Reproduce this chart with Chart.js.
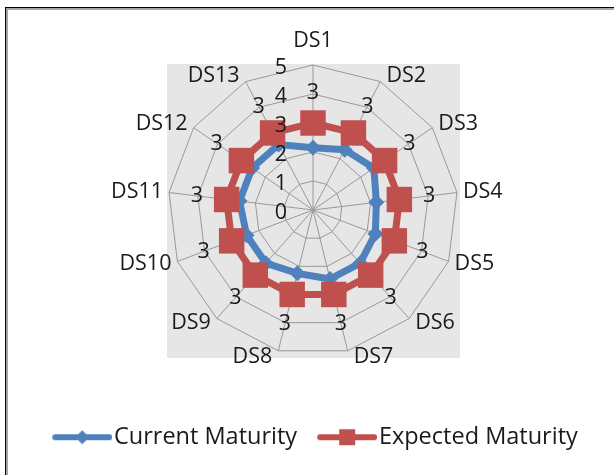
<!DOCTYPE html>
<html>
<head>
<meta charset="utf-8">
<script src="https://cdn.jsdelivr.net/npm/chart.js@4.4.1/dist/chart.umd.min.js"></script>
<style>
  html, body { margin: 0; padding: 0; background: #fff; }
  .chart-box { position: relative; width: 614px; height: 475px; }
</style>
</head>
<body>
<div class="chart-box"><canvas class="js-radar"></canvas></div>
<script>
const categories = ["DS1", "DS2", "DS3", "DS4", "DS5", "DS6", "DS7", "DS8", "DS9", "DS10", "DS11", "DS12", "DS13"];
const currentMaturity = [2.15, 2.35, 2.55, 2.2, 2.3, 2.45, 2.45, 2.25, 2.45, 2.45, 2.55, 2.55, 2.55];
const expectedMaturity = [3, 3, 3, 3, 3, 3, 3, 3, 3, 3, 3, 3, 3];
const tickValues = [0, 1, 2, 3, 4, 5];

const blue = "#4f81bd";
const red = "#c0504d";
const gridColor = "#999999";
const textColor = "#1a1a1a";
const fontFamily = "'Open Sans', sans-serif";
const fontSize = 21.5;
const legendFontSize = 23.5;

// office style legend symbol: a line with the marker in the middle
const legendSymbol = function (color, marker) {
  const c = document.createElement("canvas");
  c.width = 80;
  c.height = 24;
  const ctx = c.getContext("2d");
  ctx.strokeStyle = color;
  ctx.fillStyle = color;
  ctx.lineWidth = 6;
  ctx.lineCap = "round";
  ctx.beginPath();
  ctx.moveTo(23, 12);
  ctx.lineTo(77, 12);
  ctx.stroke();
  ctx.beginPath();
  if (marker === "diamond") {
    ctx.moveTo(50 - 7, 12);
    ctx.lineTo(50, 12 - 7);
    ctx.lineTo(50 + 7, 12);
    ctx.lineTo(50, 12 + 7);
    ctx.closePath();
  } else {
    ctx.rect(50 - 8, 12 - 8, 16, 16);
  }
  ctx.fill();
  return c;
};

const symbols = [legendSymbol(blue, "diamond"), legendSymbol(red, "square")];

const radarText = {
  id: "radarText",
  beforeDraw(chart) {
    const ctx = chart.ctx;
    const scale = chart.scales.r;
    const R = scale.drawingArea;
    ctx.save();
    // outer frame (left and top edge)
    ctx.fillStyle = "#000";
    ctx.fillRect(5, 7, 1, chart.height - 7);
    ctx.fillRect(5, 7, chart.width - 5, 1);
    ctx.fillStyle = "#a6a6a6";
    ctx.fillRect(6, 8, 2, chart.height - 8);
    ctx.fillRect(6, 8, chart.width - 6, 2);
    // plot area
    ctx.fillStyle = "#e6e6e6";
    ctx.fillRect(scale.xCenter - R - 1, scale.yCenter - R - 1, 2 * R + 3, 2 * R + 4);
    ctx.restore();
  },
  afterDatasetsDraw(chart) {
    const ctx = chart.ctx;
    const scale = chart.scales.r;
    const R = scale.drawingArea;
    ctx.save();
    ctx.font = fontSize + "px " + fontFamily;
    ctx.fillStyle = textColor;
    ctx.textBaseline = "middle";
    ctx.textAlign = "center";

    categories.forEach((name, i) => {
      const angle = scale.getIndexAngle(i);
      const end = scale.getPointPosition(i, R);
      const s = Math.sin(angle);
      const c = Math.cos(angle);
      const w = ctx.measureText(name).width;
      let x = end.x;
      let y = end.y;
      if (Math.abs(s) > 0.05) {
        x += Math.sign(s) * (w / 2 + 6);
        y -= c * 6;
      } else {
        y -= c * (fontSize / 2 + 13);
      }
      ctx.fillText(name, x, y);
    });

    ctx.textAlign = "right";
    tickValues.forEach((v) => {
      const d = scale.getDistanceFromCenterForValue(v);
      ctx.fillText(String(v), scale.xCenter - 26, scale.yCenter - d + 3);
    });

    ctx.textAlign = "center";
    expectedMaturity.forEach((v, i) => {
      const p = scale.getPointPosition(i, scale.getDistanceFromCenterForValue(v) + 30);
      ctx.fillText(String(v), p.x, p.y);
    });
    ctx.restore();
  },
};

const radarChart = function () {
  const el = document.querySelector(".js-radar");

  new Chart(el, {
    type: "radar",
    data: {
      labels: categories,
      datasets: [
        {
          label: "Current Maturity",
          data: currentMaturity,
          borderColor: blue,
          backgroundColor: blue,
          borderWidth: 7,
          fill: false,
          pointStyle: "rectRot",
          pointRadius: 8,
          pointBorderWidth: 0,
          pointBackgroundColor: blue,
          order: 2,
        },
        {
          label: "Expected Maturity",
          data: expectedMaturity,
          borderColor: red,
          backgroundColor: red,
          borderWidth: 7,
          fill: false,
          pointStyle: "rect",
          pointRadius: 18,
          pointBorderWidth: 0,
          pointBackgroundColor: red,
          order: 1,
        },
      ],
    },
    options: {
      responsive: true,
      maintainAspectRatio: false,
      animation: false,
      layout: { padding: { bottom: 16, left: 6 } },
      scales: {
        r: {
          min: 0,
          max: 5,
          ticks: { display: false, stepSize: 1 },
          grid: { color: gridColor, lineWidth: 1 },
          angleLines: { color: gridColor, lineWidth: 1 },
          pointLabels: { display: false },
          afterFit: (scale) => {
            scale.xCenter = 313;
            scale.yCenter = 210;
            scale.drawingArea = 145;
          },
        },
      },
      plugins: {
        tooltip: { enabled: false },
        legend: {
          position: "bottom",
          labels: {
            usePointStyle: true,
            pointStyleWidth: 60,
            padding: 10,
            color: textColor,
            font: { family: fontFamily, size: legendFontSize },
            generateLabels: (chart) =>
              chart.data.datasets.map((ds, i) => ({
                text: ds.label,
                pointStyle: symbols[i],
                fontColor: textColor,
                datasetIndex: i,
                hidden: false,
                lineWidth: 0,
                strokeStyle: "transparent",
                fillStyle: "transparent",
              })),
          },
        },
      },
    },
    plugins: [radarText],
  });
};

document.addEventListener("DOMContentLoaded", radarChart);
</script>
</body>
</html>
